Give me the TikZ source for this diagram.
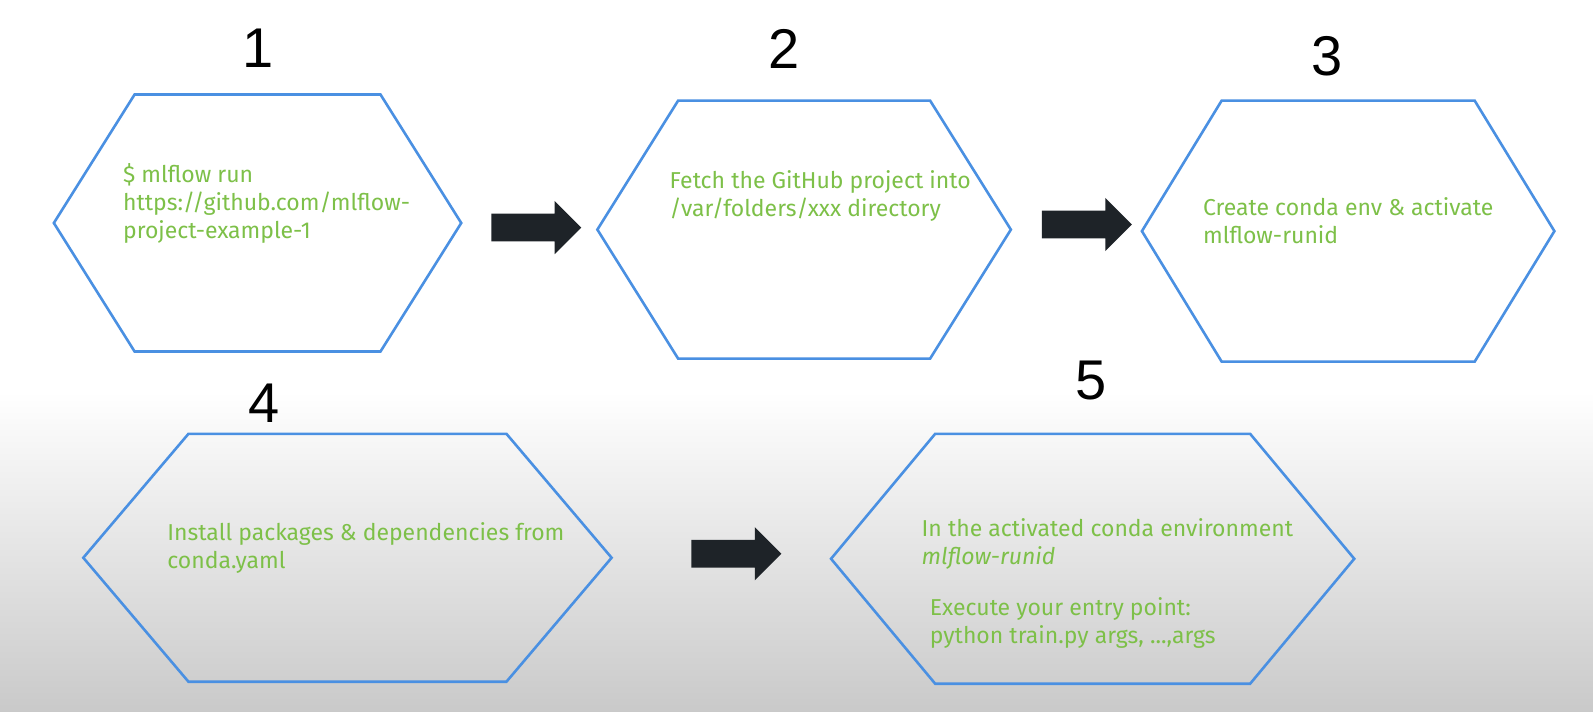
\documentclass[tikz,border=0pt]{standalone}
\usepackage{fontspec}
\setmainfont{Liberation Sans}
\newfontfamily\stepfont{Fira Sans}
\usetikzlibrary{shapes.arrows}
\definecolor{hexblue}{RGB}{74,144,226}
\definecolor{stepgreen}{RGB}{125,192,72}
\definecolor{arrowdark}{RGB}{30,35,40}
% hexagon: name, centre x, centre y, half width, half top edge, half height
\newcommand{\hexstep}[6]{%
  \draw[hexline] (#2-#4,#3) -- (#2-#5,#3-#6) -- (#2+#5,#3-#6) -- (#2+#4,#3)
    -- (#2+#5,#3+#6) -- (#2-#5,#3+#6) -- cycle;
  \coordinate (#1) at (#2,#3);}
\begin{document}
\begin{tikzpicture}[x=1.016pt,y=-1.016pt,
    hexline/.style={draw=hexblue,line width=2.6pt,line join=miter},
    steptext/.style={anchor=north west,align=left,inner sep=0pt,text=stepgreen,
      font=\stepfont\fontsize{23}{28}\selectfont},
    num/.style={inner sep=0pt,font=\fontsize{56}{56}\selectfont},
    blockarrow/.style={single arrow,fill=arrowdark,inner sep=0pt,inner ysep=13.7pt,
      minimum height=90pt,single arrow head extend=12.7pt}]
  \useasboundingbox (0,0) rectangle (1568,700);
  \fill[white] (0,0) rectangle (1568,700);
  \shade[top color=white,bottom color=black!21] (0,385) rectangle (1568,700);

  % the five steps
  \hexstep{h1}{253.5}{219.5}{200.5}{121}{126.5}
  \hexstep{h2}{791.5}{226}{203.5}{124}{127}
  \hexstep{h3}{1327}{227.5}{203}{124.5}{128.5}
  \hexstep{h4}{342}{549}{260}{156.5}{122}
  \hexstep{h5}{1075.5}{550}{257.5}{155}{123}

  \node[num] (n1) at (254,47) {1};
  \node[num] (n2) at (772,48) {2};
  \node[num] (n3) at (1306,55) {3};
  \node[num] (n4) at (260,397) {4};
  \node[num] (n5) at (1074,375) {5};

  \node[steptext] (t1) at (121,161) {\$ mlflow run\\https://github.com/mlflow-\\project-example-1};
  \node[steptext] (t2) at (659,168) {Fetch the GitHub project into\\/var/folders/xxx directory};
  \node[steptext] (t3) at (1184,194) {Create conda env \& activate\\mlflow-runid};
  \node[steptext] (t4) at (164.5,514) {Install packages \& dependencies from\\conda.yaml};
  \node[steptext] (t5) at (907,510) {In the activated conda environment\\\textit{mlflow-runid}};
  \node[steptext] (t6) at (915,588) {Execute your entry point:\\python train.py args, ...,args};

  % arrows between steps
  \node[blockarrow] (a12) at (521,224) {};
  \node[blockarrow] (a23) at (1063,221) {};
  \node[blockarrow] (a45) at (718,545) {};
\end{tikzpicture}
\end{document}
